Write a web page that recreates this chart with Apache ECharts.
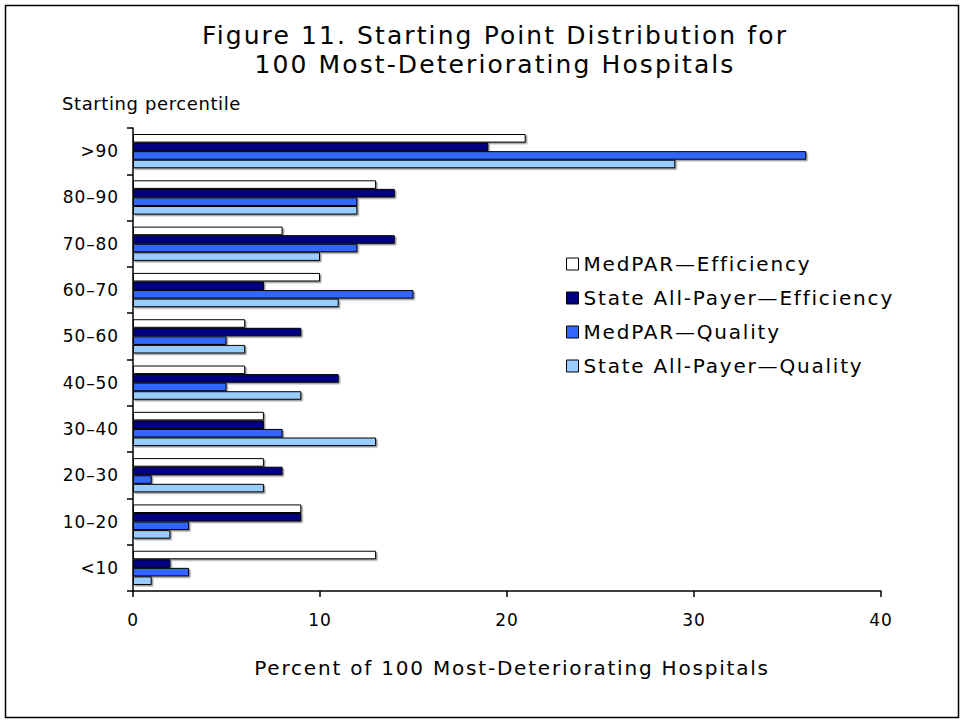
<!DOCTYPE html>
<html>
<head>
<meta charset="utf-8">
<script src="https://cdn.jsdelivr.net/npm/echarts@6/dist/echarts.min.js"></script>
<style>
  html, body { margin: 0; padding: 0; background: #fff; }
  #chart { width: 964px; height: 725px; }
  /* tracking per text size */
  #chart text[style*="25px"] { letter-spacing: 2.1px; }
  #chart text[style*="20px"] { letter-spacing: 1.8px; }
  #chart text[style*="18px"] { letter-spacing: 0.6px; }
  #chart text[style*="17px"] { letter-spacing: 0.9px; }
</style>
</head>
<body>
<div id="chart"></div>
<script>
// Starting percentile bands, top to bottom
const categories = ['>90', '80–90', '70–80', '60–70', '50–60', '40–50', '30–40', '20–30', '10–20', '<10'];

// Percent of the 100 most-deteriorating hospitals in each band
const medparEfficiency = [21, 13, 8, 10, 6, 6, 7, 7, 9, 13];
const stateEfficiency  = [19, 14, 14, 7, 9, 11, 7, 8, 9, 2];
const medparQuality    = [36, 12, 12, 15, 5, 5, 8, 1, 3, 3];
const stateQuality     = [29, 12, 10, 11, 6, 9, 13, 7, 2, 1];

const seriesNames = ['MedPAR—Efficiency', 'State All-Payer—Efficiency', 'MedPAR—Quality', 'State All-Payer—Quality'];
const seriesColors = ['#ffffff', '#000080', '#3366ff', '#99ccff'];
const seriesData = [medparEfficiency, stateEfficiency, medparQuality, stateQuality];

const xTicks = [0, 10, 20, 30, 40];

const FONT = 'DejaVu Sans';

const chart = echarts.init(document.getElementById('chart'), null, { renderer: 'svg' });

chart.setOption({
  animation: false,
  backgroundColor: '#ffffff',
  textStyle: { fontFamily: FONT, color: '#000' },
  title: {
    text: 'Figure 11. Starting Point Distribution for\n100 Most-Deteriorating Hospitals',
    left: 495,
    top: 21,
    padding: 0,
    textAlign: 'center',
    textStyle: { fontFamily: FONT, fontSize: 25, fontWeight: 'normal', color: '#000', lineHeight: 29 }
  },
  graphic: [
    {
      type: 'rect',
      shape: { x: 5.5, y: 5.5, width: 953, height: 712 },
      style: { fill: 'none', stroke: '#000', lineWidth: 1.5 },
      silent: true
    },
    {
      type: 'text',
      left: 62,
      top: 94,
      style: { text: 'Starting percentile', font: '18px "DejaVu Sans"', fill: '#000' }
    }
  ],
  legend: {
    orient: 'vertical',
    left: 566,
    top: 254,
    padding: 0,
    itemWidth: 12,
    itemHeight: 12,
    itemGap: 14,
    icon: 'rect',
    selectedMode: false,
    textStyle: { fontFamily: FONT, fontSize: 20, color: '#000' },
    data: seriesNames.map((n, i) => ({
      name: n,
      itemStyle: { color: seriesColors[i], borderColor: '#000', borderWidth: 1, shadowBlur: 0, shadowOffsetX: 0, shadowOffsetY: 0 }
    }))
  },
  grid: { left: 133, right: 83, top: 128, bottom: 134, containLabel: false },
  xAxis: {
    type: 'value',
    min: xTicks[0],
    max: xTicks[xTicks.length - 1],
    interval: 10,
    splitLine: { show: false },
    axisLine: { show: true, lineStyle: { color: '#000', width: 1.5 } },
    axisTick: { show: true, length: 6, lineStyle: { color: '#000', width: 1.5 } },
    axisLabel: { fontFamily: FONT, fontSize: 17, color: '#000', margin: 20 },
    name: 'Percent of 100 Most-Deteriorating Hospitals',
    nameLocation: 'middle',
    nameGap: 67,
    nameTextStyle: { fontFamily: FONT, fontSize: 20, color: '#000', padding: [0, 0, 0, 10] }
  },
  yAxis: {
    type: 'category',
    inverse: true,
    data: categories,
    axisLine: { show: true, lineStyle: { color: '#000', width: 1.5 } },
    axisTick: { show: true, length: 6, lineStyle: { color: '#000', width: 1.5 } },
    axisLabel: { fontFamily: FONT, fontSize: 17, color: '#000', margin: 14 },
    splitLine: { show: false }
  },
  series: seriesNames.map((name, i) => ({
    name: name,
    type: 'bar',
    data: seriesData[i],
    barGap: '0%',
    barCategoryGap: '26%',
    itemStyle: {
      color: seriesColors[i],
      borderColor: '#000',
      borderWidth: 1,
      shadowColor: 'rgba(0,0,0,0.4)',
      shadowBlur: 0,
      shadowOffsetX: 1.5,
      shadowOffsetY: 1.5
    }
  }))
});
</script>
</body>
</html>
